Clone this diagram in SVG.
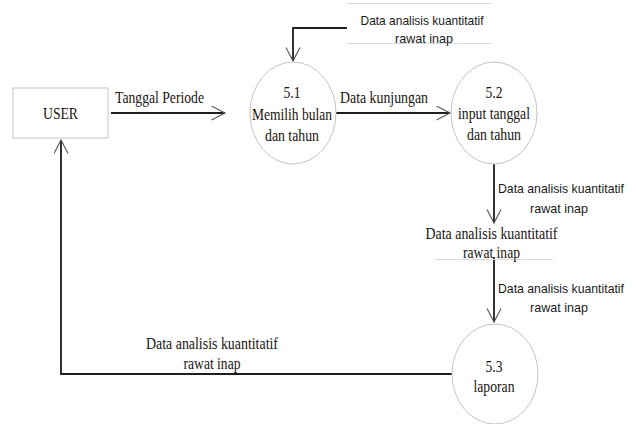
<svg xmlns="http://www.w3.org/2000/svg" width="641" height="424" viewBox="0 0 641 424">
<style>
.bg{fill:#fff}
.proc{fill:#fff;stroke:#c4c4c4;stroke-width:1}
.ent{fill:#fff;stroke:#cfcfcf;stroke-width:1.2}
.flow{fill:none;stroke:#1e1e1e;stroke-width:1.8}
.store{stroke:#dadada;stroke-width:1}
.tr{font-family:"Liberation Serif","Times New Roman",serif;font-size:16px;fill:#1a1410}
.ar{font-family:"Liberation Sans",Arial,sans-serif;font-size:13px;fill:#1a1a1a}
.mid{text-anchor:middle}
</style>
<defs>
<marker id="v" markerWidth="16" markerHeight="16" viewBox="0 0 16 16" refX="14" refY="7.5" orient="auto" markerUnits="userSpaceOnUse">
<path d="M0.5,0.5 L14,7.5 L0.5,14.5" fill="none" stroke="#555" stroke-width="1.1"/>
</marker>
</defs>
<rect class="bg" x="0" y="0" width="641" height="424"/>

<g id="connectors">
<line class="flow" x1="111" y1="113" x2="225" y2="113" marker-end="url(#v)"/>
<line class="flow" x1="336" y1="113" x2="450" y2="113" marker-end="url(#v)"/>
<path class="flow" d="M347,28 H293 V61" marker-end="url(#v)"/>
<line class="flow" x1="494" y1="164" x2="494" y2="223" marker-end="url(#v)"/>
<line class="flow" x1="494" y1="257" x2="494" y2="322" marker-end="url(#v)"/>
<path class="flow" d="M452,374 H61 V140" marker-end="url(#v)"/>
<text class="tr" x="115" y="103" textLength="89" lengthAdjust="spacingAndGlyphs">Tanggal Periode</text>
<text class="tr" x="340" y="103" textLength="88" lengthAdjust="spacingAndGlyphs">Data kunjungan</text>
<text class="ar" x="498" y="193" textLength="126" lengthAdjust="spacingAndGlyphs">Data analisis kuantitatif</text>
<text class="ar" x="530" y="213" textLength="58" lengthAdjust="spacingAndGlyphs">rawat inap</text>
<text class="ar" x="498" y="293" textLength="126" lengthAdjust="spacingAndGlyphs">Data analisis kuantitatif</text>
<text class="ar" x="530" y="312" textLength="58" lengthAdjust="spacingAndGlyphs">rawat inap</text>
<text class="tr mid" x="212" y="349" textLength="132" lengthAdjust="spacingAndGlyphs">Data analisis kuantitatif</text>
<text class="tr mid" x="212" y="369" textLength="57" lengthAdjust="spacingAndGlyphs">rawat inap</text>
</g>

<g id="user">
<rect class="ent" x="13" y="88" width="95" height="50"/>
<text class="tr mid" x="60.5" y="119" textLength="35" lengthAdjust="spacingAndGlyphs">USER</text>
</g>

<g id="p51">
<ellipse class="proc" cx="293" cy="113" rx="43" ry="51"/>
<text class="tr mid" x="292" y="98" textLength="17" lengthAdjust="spacingAndGlyphs">5.1</text>
<text class="tr mid" x="292" y="120" textLength="80" lengthAdjust="spacingAndGlyphs">Memilih bulan</text>
<text class="tr mid" x="292" y="141" textLength="54" lengthAdjust="spacingAndGlyphs">dan tahun</text>
</g>

<g id="p52">
<ellipse class="proc" cx="494" cy="113" rx="43" ry="51"/>
<text class="tr mid" x="494" y="98" textLength="17" lengthAdjust="spacingAndGlyphs">5.2</text>
<text class="tr mid" x="494" y="119" textLength="72" lengthAdjust="spacingAndGlyphs">input tanggal</text>
<text class="tr mid" x="494" y="140" textLength="54" lengthAdjust="spacingAndGlyphs">dan tahun</text>
</g>

<g id="p53">
<ellipse class="proc" cx="495" cy="374" rx="43" ry="50"/>
<text class="tr mid" x="494" y="372" textLength="17" lengthAdjust="spacingAndGlyphs">5.3</text>
<text class="tr mid" x="494" y="392" textLength="41" lengthAdjust="spacingAndGlyphs">laporan</text>
</g>

<g id="store-top">
<line class="store" x1="347" y1="3.5" x2="492" y2="3.5"/>
<line class="store" x1="347" y1="43.5" x2="492" y2="43.5"/>
<text class="ar mid" x="422" y="25" textLength="123" lengthAdjust="spacingAndGlyphs">Data analisis kuantitatif</text>
<text class="ar mid" x="424" y="43" textLength="58" lengthAdjust="spacingAndGlyphs">rawat inap</text>
</g>

<g id="store-mid">
<line class="store" x1="435" y1="259.5" x2="553" y2="259.5"/>
<text class="tr mid" x="491.5" y="239" textLength="132" lengthAdjust="spacingAndGlyphs">Data analisis kuantitatif</text>
<text class="tr mid" x="491.5" y="258" textLength="57" lengthAdjust="spacingAndGlyphs">rawat inap</text>
</g>
</svg>
